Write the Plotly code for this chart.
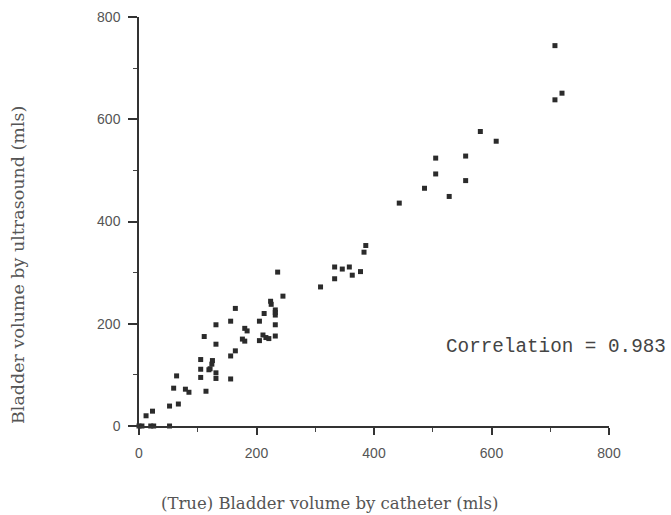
import plotly.graph_objects as go

catheter_mls = [0, 5, 20, 25, 52, 12, 23, 52, 67, 59, 64, 79, 85, 114,
                105, 105, 105, 111, 131, 131, 125, 124, 121, 119, 131, 131,
                156, 156, 164, 156, 164, 180, 184, 176, 180, 205, 211, 216,
                221, 232, 205, 213, 232, 232, 232, 232, 224, 225, 245, 236,
                309, 333, 333, 346, 358, 363, 377, 383, 386,
                443, 486, 528, 505, 505, 556, 556, 581, 608, 708, 708, 720]
ultrasound_mls = [0, 0, 0, 0, 0, 20, 29, 39, 43, 74, 98, 72, 66, 68,
                  130, 111, 95, 175, 160, 198, 128, 121, 112, 110, 104, 93,
                  92, 137, 147, 205, 230, 191, 186, 170, 166, 167, 178, 173,
                  171, 176, 205, 220, 198, 217, 222, 227, 244, 238, 254, 301,
                  272, 288, 311, 307, 311, 295, 302, 340, 353,
                  436, 465, 449, 493, 524, 480, 528, 576, 557, 744, 638, 651]

tick_vals = [0, 200, 400, 600, 800]
tick_text = ["0", "200", "400", "600", "800"]
x_title = "(True) Bladder volume by catheter (mls)"
y_title = "Bladder volume by ultrasound (mls)"
corr_text = "Correlation = 0.983"

fig = go.Figure()
fig.add_trace(go.Scatter(
    x=catheter_mls, y=ultrasound_mls, mode="markers",
    marker=dict(symbol="square", size=5, color="#2b2b2b"),
    cliponaxis=False, showlegend=False, hoverinfo="x+y"))

axis_common = dict(
    range=[0, 800], tickvals=tick_vals, ticktext=tick_text,
    showgrid=False, zeroline=False, showline=True, linecolor="#333",
    linewidth=1.5, ticks="outside", tickcolor="#333", tickwidth=1.5,
    tickfont=dict(family="Liberation Sans, Arial, sans-serif", size=14, color="#555"),
    minor=dict(dtick=100, tick0=0, ticks="outside", ticklen=4, tickcolor="#444", tickwidth=1),
    fixedrange=True)

fig.update_xaxes(**axis_common, ticklen=7, ticklabelstandoff=6)
fig.update_yaxes(**axis_common, ticklen=9, ticklabelstandoff=5)

fig.update_layout(
    width=671, height=515,
    margin=dict(l=139, r=62, t=17, b=89, autoexpand=False),
    paper_bgcolor="white", plot_bgcolor="white",
    annotations=[
        dict(text=x_title, xref="paper", yref="paper", x=0.406, y=-0.19,
             xanchor="center", yanchor="middle", showarrow=False,
             font=dict(family="DejaVu Serif, serif", size=16.5, color="#555")),
        dict(text=y_title, xref="paper", yref="paper", x=-0.257, y=0.394,
             xanchor="center", yanchor="middle", showarrow=False, textangle=-90,
             font=dict(family="DejaVu Serif, serif", size=17.5, color="#555")),
        dict(text=corr_text, xref="x", yref="y", x=519, y=154,
             xanchor="left", yanchor="middle", showarrow=False,
             font=dict(family="Liberation Mono, Courier New, monospace", size=19.3, color="#444")),
    ])

fig.write_html("out.html", config={"displayModeBar": False},
               post_script="document.body.style.margin='0px';document.body.style.padding='0px';")
